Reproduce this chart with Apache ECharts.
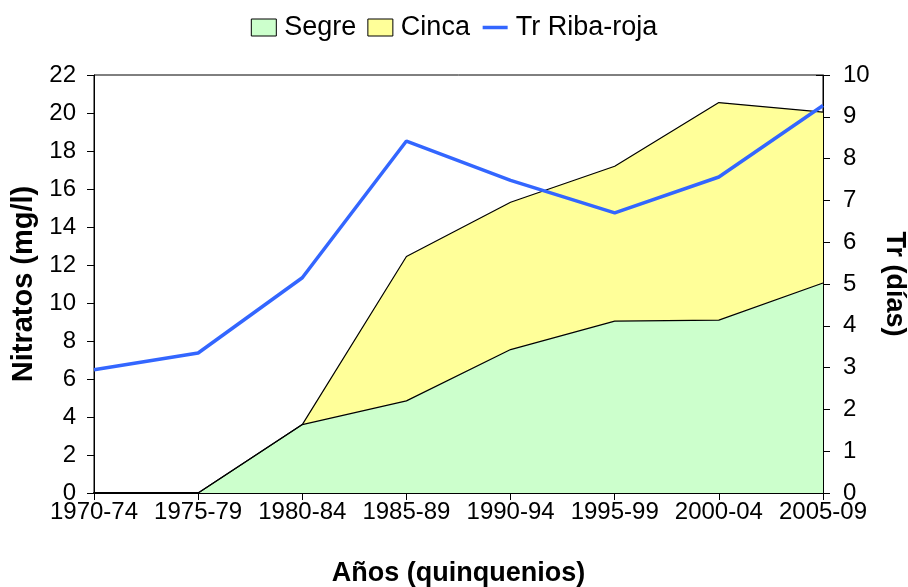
<!DOCTYPE html>
<html>
<head>
<meta charset="utf-8">
<script src="https://cdn.jsdelivr.net/npm/echarts@6/dist/echarts.min.js"></script>
<style>
html, body { margin: 0; padding: 0; background: #fff; }
#chart { width: 908px; height: 587px; }
</style>
</head>
<body>
<div id="chart"></div>
<script>
var periodos = ['1970-74', '1975-79', '1980-84', '1985-89', '1990-94', '1995-99', '2000-04', '2005-09'];
var segre = [0, 0, 3.6, 4.85, 7.55, 9.05, 9.1, 11.05];
var cinca = [0, 0, 0, 7.6, 7.75, 8.15, 11.45, 9.0];
var trRibaRoja = [2.95, 3.35, 5.15, 8.42, 7.48, 6.7, 7.56, 9.27];

var fuente = 'Liberation Sans, Arial, sans-serif';

var chart = echarts.init(document.getElementById('chart'));

var option = {
    backgroundColor: '#fff',
    animation: false,
    legend: {
        top: 9,
        left: 'center',
        itemGap: 11,
        itemWidth: 25,
        itemHeight: 17,
        textStyle: { fontFamily: fuente, fontSize: 27, color: '#000', padding: [0, 0, 0, 3] },
        data: [
            { name: 'Segre', icon: 'rect', itemStyle: { borderColor: '#000', borderWidth: 1 } },
            { name: 'Cinca', icon: 'rect', itemStyle: { borderColor: '#000', borderWidth: 1 } },
            { name: 'Tr Riba-roja', itemStyle: { opacity: 0 }, lineStyle: { width: 3.5 } }
        ]
    },
    grid: {
        left: 94,
        right: 85,
        top: 75,
        bottom: 94,
        outerBoundsMode: 'none',
        containLabel: false,
        show: true,
        borderColor: '#000',
        borderWidth: 1,
        backgroundColor: 'transparent'
    },
    xAxis: {
        type: 'category',
        data: periodos,
        boundaryGap: false,
        name: 'Años (quinquenios)',
        nameLocation: 'middle',
        nameGap: 67,
        nameTextStyle: { fontFamily: fuente, fontSize: 27, fontWeight: 'bold', color: '#000' },
        axisLine: { lineStyle: { color: '#000', width: 2 } },
        axisTick: { show: true, length: 7, alignWithLabel: true, interval: 0, lineStyle: { color: '#000' } },
        axisLabel: { fontFamily: fuente, fontSize: 24, color: '#000', margin: 7, interval: 0, hideOverlap: false },
        splitLine: { show: false }
    },
    yAxis: [{
        type: 'value',
        min: 0,
        max: 22,
        interval: 2,
        name: 'Nitratos (mg/l)',
        nameLocation: 'middle',
        nameGap: 54,
        nameTextStyle: { fontFamily: fuente, fontSize: 29, fontWeight: 'bold', color: '#000' },
        axisLine: { show: true, lineStyle: { color: '#000' } },
        axisTick: { show: true, length: 7, lineStyle: { color: '#000' } },
        axisLabel: { fontFamily: fuente, fontSize: 24, color: '#000', margin: 18 },
        splitLine: { show: false }
    }, {
        type: 'value',
        min: 0,
        max: 10,
        interval: 1,
        position: 'right',
        name: 'Tr (días)',
        nameLocation: 'middle',
        nameGap: 56,
        nameRotate: -90,
        nameTextStyle: { fontFamily: fuente, fontSize: 27, fontWeight: 'bold', color: '#000' },
        axisLine: { show: true, lineStyle: { color: '#000' } },
        axisTick: { show: true, length: 7, lineStyle: { color: '#000' } },
        axisLabel: { fontFamily: fuente, fontSize: 24, color: '#000', margin: 20 },
        splitLine: { show: false }
    }, {
        // ticks que cruzan el eje derecho hacia dentro
        type: 'value',
        min: 0,
        max: 10,
        interval: 1,
        position: 'right',
        axisLine: { show: false },
        axisTick: { show: true, inside: true, length: 7, lineStyle: { color: '#000' } },
        axisLabel: { show: false },
        splitLine: { show: false }
    }],
    series: [{
        name: 'Segre',
        type: 'line',
        stack: 'nitratos',
        data: segre,
        symbol: 'none',
        itemStyle: { color: '#ccffcc' },
        lineStyle: { color: '#000', width: 1.2 },
        areaStyle: { color: '#ccffcc', opacity: 1 }
    }, {
        name: 'Cinca',
        type: 'line',
        stack: 'nitratos',
        data: cinca,
        symbol: 'none',
        itemStyle: { color: '#ffff99' },
        lineStyle: { color: '#000', width: 1.2 },
        areaStyle: { color: '#ffff99', opacity: 1 }
    }, {
        name: 'Tr Riba-roja',
        type: 'line',
        yAxisIndex: 1,
        data: trRibaRoja,
        symbol: 'none',
        itemStyle: { color: '#3366ff' },
        lineStyle: { color: '#3366ff', width: 3.5 },
        z: 5
    }]
};

chart.setOption(option);
</script>
</body>
</html>
